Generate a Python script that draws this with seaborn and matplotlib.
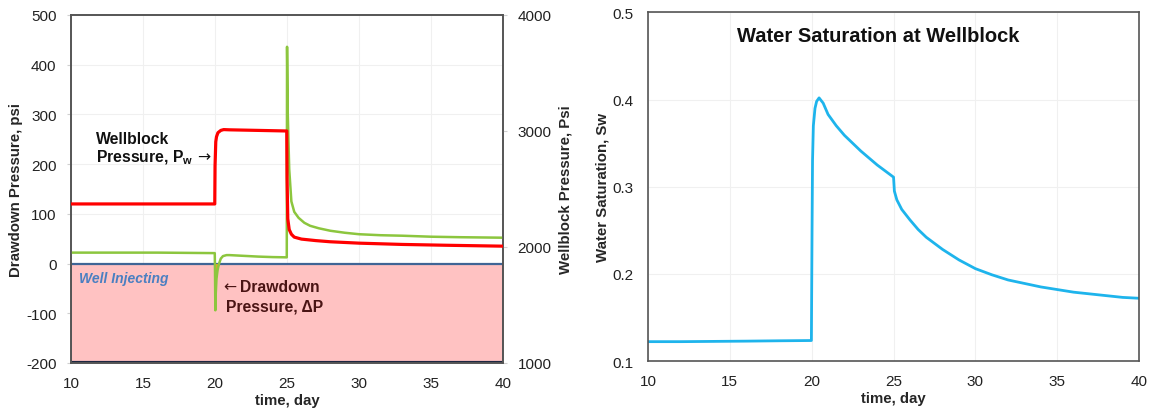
import numpy as np
import pandas as pd
import matplotlib
matplotlib.use("Agg")
import matplotlib.pyplot as plt
import seaborn as sns

# Drawdown pressure (psi) vs time (day)
t_dd = [10, 12, 14, 16, 18, 19.98, 20.0, 20.02, 20.05, 20.1, 20.18, 20.28, 20.4, 20.55, 20.8, 21, 22, 23, 24,
        24.98, 25.0, 25.05, 25.15, 25.3, 25.5, 25.8, 26.2, 26.6, 27.2, 28, 29, 30, 31.5, 33, 35, 37, 40]
dd = [22, 22, 22, 22, 21.5, 21, -20, -94, -60, -30, -12, 0, 10, 15, 17, 17, 15.5, 14, 13,
      12.5, 436, 300, 190, 125, 104, 92, 82, 76, 71, 66, 62, 59, 57, 56, 54, 53, 52]

# Wellblock pressure (psi) vs time (day)
t_pw = [10, 15, 19.98, 20.0, 20.05, 20.1, 20.2, 20.4, 20.6, 21, 23, 24.98,
        25.0, 25.05, 25.15, 25.3, 25.5, 26, 27, 28, 30, 33, 36, 40]
pw = [2371, 2371, 2371, 2700, 2907, 2950, 2985, 3005, 3012, 3010, 3005, 3000,
      2600, 2243, 2150, 2110, 2085, 2068, 2055, 2045, 2033, 2022, 2015, 2007]

# Water saturation at the wellblock
t_sw = [10, 12, 14, 16, 18, 19.98, 20.02, 20.05, 20.1, 20.2, 20.3, 20.45, 20.7, 21, 21.5, 22, 22.5,
        23, 23.5, 24, 24.5, 25.0, 25.05, 25.2, 25.5, 26, 26.5, 27, 28, 29, 30, 31, 32, 33, 34, 35,
        36, 37, 38, 39, 40]
sw = [0.1222, 0.1222, 0.1225, 0.1228, 0.1232, 0.1235, 0.25, 0.33, 0.37, 0.39, 0.398, 0.402, 0.396,
      0.383, 0.370, 0.359, 0.350, 0.341, 0.333, 0.325, 0.318, 0.311, 0.295, 0.285, 0.274, 0.262,
      0.251, 0.242, 0.228, 0.216, 0.206, 0.199, 0.193, 0.189, 0.185, 0.182, 0.179, 0.177, 0.175,
      0.173, 0.172]

x_ticks = [10, 15, 20, 25, 30, 35, 40]
dd_ticks = [-200, -100, 0, 100, 200, 300, 400, 500]
pw_ticks = [1000, 2000, 3000, 4000]
sw_ticks = [0.1, 0.2, 0.3, 0.4, 0.5]

sns.set_style("white")
plt.rcParams["font.family"] = ["Liberation Sans", "DejaVu Sans"]
plt.rcParams["mathtext.fontset"] = "custom"
plt.rcParams["mathtext.rm"] = "Liberation Sans"
plt.rcParams["axes.unicode_minus"] = False

fig = plt.figure(figsize=(11.57, 4.14), dpi=100)
ax1 = fig.add_axes([0.0614, 0.1208, 0.3734, 0.8406])
ax3 = fig.add_axes([0.5601, 0.1256, 0.4244, 0.8418])

grid_c = "#f0f0f0"
spine_c = "#555555"
tick_fs = 11
lab_fs = 10.8
ann_fs = 11.3


def style_axes(a):
    for s in a.spines.values():
        s.set_color(spine_c)
        s.set_linewidth(1.2)
    a.tick_params(labelsize=tick_fs, labelcolor="#222222", color="#d0d0d0",
                  length=3, width=0.8)
    a.tick_params(axis="y", pad=7.5)
    a.tick_params(axis="x", pad=6.5)


# ---- left panel: drawdown and wellblock pressure ----
ax1.set_xlim(10, 40)
ax1.set_ylim(-200, 500)
ax1.set_xticks(x_ticks)
ax1.set_yticks(dd_ticks)
ax1.grid(True, color=grid_c, lw=0.8)
ax1.set_axisbelow(True)

ax1.axhspan(-200, 0, facecolor="#ffc2c2", edgecolor="#4a6fa5", lw=1.3, zorder=1)
ax1.axhline(0, color="#3f6596", lw=1.6, zorder=2)
ax1.axhline(-200, color="#1c2640", lw=3, zorder=2)

df_dd = pd.DataFrame({"time": t_dd, "dd": dd})
tt = np.array(t_dd)
yy = np.array(dd, dtype=float)
ax1.fill_between(tt, yy, 0, where=(yy <= 0), interpolate=True, color="#f0a020", zorder=3, lw=0)
sns.lineplot(data=df_dd, x="time", y="dd", ax=ax1, color="#8cc63e", lw=1.8, zorder=4)

ax2 = ax1.twinx()
ax2.set_ylim(1000, 4000)
ax2.set_yticks(pw_ticks)
df_pw = pd.DataFrame({"time": t_pw, "pw": pw})
sns.lineplot(data=df_pw, x="time", y="pw", ax=ax2, color="#ff0000", lw=2.3, zorder=5)

ax1.set_xlabel("time, day", fontsize=lab_fs, fontweight="bold", labelpad=2)
ax1.set_ylabel("Drawdown Pressure, psi", fontsize=lab_fs, fontweight="bold", labelpad=2)
ax2.set_ylabel("Wellblock Pressure, Psi", fontsize=lab_fs, fontweight="bold", labelpad=5)
style_axes(ax1)
style_axes(ax2)

ax1.text(11.74, 251, "Wellblock", fontsize=ann_fs, fontweight="bold", color="#111111",
         va="center", ha="left", zorder=6)
ax1.text(11.74, 215, r"Pressure, P$_\mathregular{w}$", fontsize=ann_fs, fontweight="bold",
         color="#111111", va="center", ha="left", zorder=6)
ax1.text(18.75, 215, "→", fontsize=ann_fs, family="DejaVu Sans", color="#111111",
         va="center", ha="left", zorder=6)
ax1.text(20.55, -47, "←", fontsize=ann_fs, family="DejaVu Sans", color="#4a1414",
         va="center", ha="left", zorder=6)
ax1.text(21.75, -47, "Drawdown", fontsize=ann_fs, fontweight="bold", color="#4a1414",
         va="center", ha="left", zorder=6)
ax1.text(20.76, -85, "Pressure, ΔP", fontsize=ann_fs, fontweight="bold", color="#4a1414",
         va="center", ha="left", zorder=6)
ax1.text(10.54, -29, "Well Injecting", fontsize=10, fontweight="bold", style="italic",
         color="#4a7fc1", va="center", ha="left", zorder=6)

# ---- right panel: water saturation ----
df_sw = pd.DataFrame({"time": t_sw, "sw": sw})
sns.lineplot(data=df_sw, x="time", y="sw", ax=ax3, color="#1eb4ec", lw=2.0)
ax3.set_xlim(10, 40)
ax3.set_ylim(0.1, 0.5)
ax3.set_xticks(x_ticks)
ax3.set_yticks(sw_ticks)
ax3.set_yticklabels(["0.1", "0.2", "0.3", "0.4", "0.5"])
ax3.grid(True, color=grid_c, lw=0.8)
ax3.set_axisbelow(True)
style_axes(ax3)
ax3.set_xlabel("time, day", fontsize=lab_fs, fontweight="bold", labelpad=2)
ax3.set_ylabel("Water Saturation, Sw", fontsize=lab_fs, fontweight="bold", labelpad=2)
ax3.text(24.09, 0.474, "Water Saturation at Wellblock", fontsize=14.5, fontweight="bold",
         color="#111111", ha="center", va="center")

fig.savefig("out.png", dpi=100)
